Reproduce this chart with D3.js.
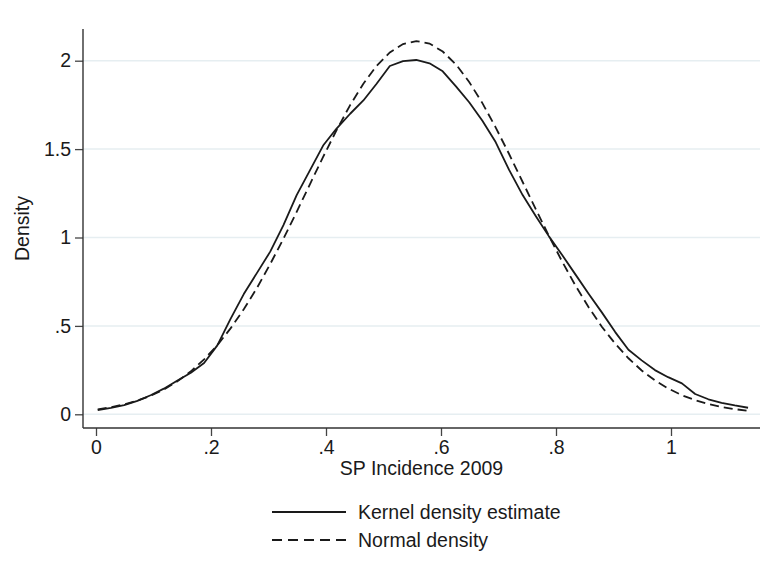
<!DOCTYPE html>
<html>
<head>
<meta charset="utf-8">
<script src="https://cdn.jsdelivr.net/npm/d3@7"></script>
<style>
  body { margin: 0; background: #fff; }
  text { font-family: "Liberation Sans", Arial, Helvetica, sans-serif; fill: #1a1a1a; }
</style>
</head>
<body>
<svg id="chart" width="764" height="580"></svg>
<script>
// evaluation grid (SP Incidence 2009)
const xs = [0.003, 0.026, 0.049, 0.072, 0.095, 0.118, 0.141, 0.165, 0.188, 0.211,
            0.234, 0.257, 0.280, 0.303, 0.326, 0.349, 0.372, 0.395, 0.418, 0.442,
            0.465, 0.488, 0.511, 0.534, 0.557, 0.580, 0.603, 0.626, 0.649, 0.672,
            0.695, 0.718, 0.742, 0.765, 0.788, 0.811, 0.834, 0.857, 0.880, 0.903,
            0.926, 0.949, 0.972, 0.995, 1.019, 1.042, 1.065, 1.088, 1.111, 1.134];

// kernel density estimate
const kernel = [0.024, 0.036, 0.052, 0.076, 0.108, 0.145, 0.190, 0.235, 0.290, 0.390,
                0.540, 0.680, 0.800, 0.920, 1.070, 1.240, 1.380, 1.520, 1.615, 1.700,
                1.775, 1.870, 1.970, 1.998, 2.004, 1.985, 1.940, 1.855, 1.765, 1.660,
                1.540, 1.385, 1.240, 1.120, 1.005, 0.900, 0.790, 0.680, 0.575, 0.465,
                0.365, 0.305, 0.250, 0.210, 0.175, 0.115, 0.085, 0.065, 0.050, 0.037];

// normal density overlay
const normal = [0.028, 0.040, 0.056, 0.077, 0.105, 0.140, 0.185, 0.243, 0.311, 0.391,
                0.486, 0.594, 0.715, 0.850, 0.993, 1.145, 1.301, 1.456, 1.605, 1.749,
                1.870, 1.971, 2.047, 2.094, 2.111, 2.097, 2.052, 1.979, 1.880, 1.760,
                1.623, 1.475, 1.314, 1.159, 1.007, 0.862, 0.727, 0.604, 0.494, 0.399,
                0.317, 0.248, 0.192, 0.146, 0.108, 0.080, 0.058, 0.041, 0.029, 0.020];

const xTicks = [0, 0.2, 0.4, 0.6, 0.8, 1];
const xTickLabels = ["0", ".2", ".4", ".6", ".8", "1"];
const yTicks = [0, 0.5, 1, 1.5, 2];
const yTickLabels = ["0", ".5", "1", "1.5", "2"];
const seriesNames = ["Kernel density estimate", "Normal density"];

// plot region
const plotLeft = 83, plotRight = 760, plotTop = 29, plotBottom = 428;
const fontSize = 19.5;
const ink = "#1a1a1a";

const svg = d3.select('#chart');

const x = d3.scaleLinear().domain([0, 1]).range([96, 671]);
const y = d3.scaleLinear().domain([0, 2]).range([414.3, 60.7]);

// gridlines
svg.append('g')
    .selectAll('line')
    .data(yTicks)
    .join('line')
        .attr('x1', plotLeft)
        .attr('x2', plotRight)
        .attr('y1', d => y(d))
        .attr('y2', d => y(d))
        .attr('stroke', '#e6eef1')
        .attr('stroke-width', 1.5);

// y axis
const yAxis = svg.append('g')
    .attr('transform', 'translate(' + plotLeft + ',0)')
    .call(d3.axisLeft(y)
        .tickValues(yTicks)
        .tickFormat((d, i) => yTickLabels[i])
        .tickSize(8)
        .tickPadding(4));
yAxis.select('.domain').remove();
yAxis.selectAll('line').attr('stroke', '#444').attr('stroke-width', 1.3);
yAxis.selectAll('text')
    .attr('font-size', fontSize)
    .attr('font-family', '"Liberation Sans", Arial, sans-serif')
    .attr('fill', ink);

// x axis
const xAxis = svg.append('g')
    .attr('transform', 'translate(0,' + plotBottom + ')')
    .call(d3.axisBottom(x)
        .tickValues(xTicks)
        .tickFormat((d, i) => xTickLabels[i])
        .tickSize(8)
        .tickPadding(4));
xAxis.select('.domain').remove();
xAxis.selectAll('line').attr('stroke', '#444').attr('stroke-width', 1.3);
xAxis.selectAll('text')
    .attr('font-size', fontSize)
    .attr('font-family', '"Liberation Sans", Arial, sans-serif')
    .attr('fill', ink);

// axis lines
svg.append('line')
    .attr('x1', plotLeft).attr('x2', plotLeft)
    .attr('y1', plotTop).attr('y2', plotBottom)
    .attr('stroke', '#333').attr('stroke-width', 1.4);
svg.append('line')
    .attr('x1', plotLeft).attr('x2', plotRight)
    .attr('y1', plotBottom).attr('y2', plotBottom)
    .attr('stroke', '#333').attr('stroke-width', 1.4);

// curves
const line = d3.line()
    .x((d, i) => x(xs[i]))
    .y(d => y(d));

svg.append('path')
    .datum(kernel)
    .attr('d', line)
    .attr('fill', 'none')
    .attr('stroke', ink)
    .attr('stroke-width', 1.8)
    .attr('stroke-linejoin', 'round');

svg.append('path')
    .datum(normal)
    .attr('d', line)
    .attr('fill', 'none')
    .attr('stroke', ink)
    .attr('stroke-width', 1.8)
    .attr('stroke-dasharray', '9,5');

// axis titles
svg.append('text')
    .attr('x', (plotLeft + plotRight) / 2)
    .attr('y', 475)
    .attr('text-anchor', 'middle')
    .attr('font-size', fontSize)
    .text('SP Incidence 2009');

svg.append('text')
    .attr('transform', 'translate(29,' + ((plotTop + plotBottom) / 2) + ') rotate(-90)')
    .attr('text-anchor', 'middle')
    .attr('font-size', fontSize)
    .text('Density');

// legend
const legend = svg.append('g');
const legendRows = [
    { name: seriesNames[0], dash: null, y: 512 },
    { name: seriesNames[1], dash: '10,6', y: 540 }
];
legendRows.forEach(r => {
    legend.append('line')
        .attr('x1', 272).attr('x2', 346)
        .attr('y1', r.y).attr('y2', r.y)
        .attr('stroke', ink)
        .attr('stroke-width', 1.8)
        .attr('stroke-dasharray', r.dash);
    legend.append('text')
        .attr('x', 358)
        .attr('y', r.y + 7)
        .attr('font-size', fontSize)
        .text(r.name);
});
</script>
</body>
</html>
